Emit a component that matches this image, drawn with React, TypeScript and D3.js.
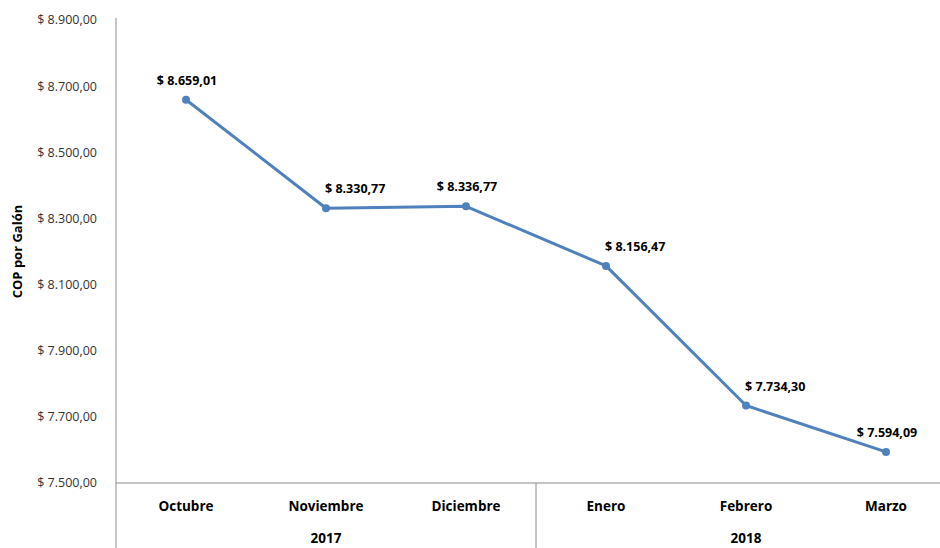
import React, { useEffect, useRef } from 'react';
import * as d3 from 'd3';

const months = ['Octubre', 'Noviembre', 'Diciembre', 'Enero', 'Febrero', 'Marzo'];
const years = ['2017', '2017', '2017', '2018', '2018', '2018'];
const prices = [8659.01, 8330.77, 8336.77, 8156.47, 7734.3, 7594.09];
const yTicks = [7500, 7700, 7900, 8100, 8300, 8500, 8700, 8900];
// label placement: centered above or above-right of the point
const labelSide = ['center', 'right', 'center', 'right', 'right', 'center'];

const fmt = (v: number) =>
  '$ ' +
  v
    .toFixed(2)
    .replace('.', ',')
    .replace(/\B(?=(\d{3})+(?!\d))/g, '.');

const App: React.FC = () => {
  const svgRef = useRef<SVGSVGElement>(null);

  useEffect(() => {
    if (!svgRef.current) return;
    const width = 940;
    const height = 548;
    const left = 116;
    const top = 20;
    const bottom = 483;
    const font = "'Open Sans', 'Noto Sans', sans-serif";

    const svg = d3.select(svgRef.current);
    svg.selectAll('*').remove();

    const x = d3.scaleBand<string>().domain(months).range([left, left + 140 * months.length]);
    const y = d3.scaleLinear().domain([7500, 8900]).range([bottom, top]);
    const cx = (m: string) => x(m)! + x.bandwidth() / 2;

    // axes
    svg.append('line')
      .attr('x1', left).attr('x2', left)
      .attr('y1', top - 2).attr('y2', height)
      .attr('stroke', '#8c8c8c').attr('stroke-width', 1);
    svg.append('line')
      .attr('x1', left).attr('x2', width)
      .attr('y1', bottom).attr('y2', bottom)
      .attr('stroke', '#8c8c8c').attr('stroke-width', 1);

    // year groups + separator
    const yearGroups = d3.groups(months.map((m, i) => ({ m, yr: years[i] })), d => d.yr);
    yearGroups.forEach(([yr, items], gi) => {
      const x0 = x(items[0].m)!;
      const x1 = x(items[items.length - 1].m)! + x.bandwidth();
      if (gi > 0) {
        svg.append('line')
          .attr('x1', x0).attr('x2', x0)
          .attr('y1', bottom).attr('y2', height)
          .attr('stroke', '#8c8c8c').attr('stroke-width', 1);
      }
      svg.append('text')
        .attr('x', (x0 + x1) / 2).attr('y', 543)
        .attr('text-anchor', 'middle')
        .style('font-family', font).style('font-size', '13.5px').style('font-weight', 'bold')
        .attr('fill', '#000')
        .text(yr);
    });

    // y tick labels
    svg.append('g').selectAll('text').data(yTicks).join('text')
      .attr('x', 97).attr('y', d => y(d))
      .attr('dy', '0.35em')
      .attr('text-anchor', 'end')
      .style('font-family', font).style('font-size', '12.5px')
      .attr('fill', '#333')
      .text(d => fmt(d));

    // month labels
    svg.append('g').selectAll('text').data(months).join('text')
      .attr('x', d => cx(d)).attr('y', 511)
      .attr('text-anchor', 'middle')
      .style('font-family', font).style('font-size', '13.5px').style('font-weight', 'bold')
      .attr('fill', '#000')
      .text(d => d);

    // y title
    svg.append('text')
      .attr('transform', `translate(22, ${(top + bottom) / 2}) rotate(-90)`)
      .attr('text-anchor', 'middle')
      .style('font-family', font).style('font-size', '13px').style('font-weight', 'bold')
      .attr('fill', '#000')
      .text('COP por Galón');

    const pts = months.map((m, i) => ({ m, v: prices[i], side: labelSide[i] }));
    const line = d3.line<{ m: string; v: number }>()
      .x(d => cx(d.m))
      .y(d => y(d.v));

    svg.append('path')
      .datum(pts)
      .attr('d', line)
      .attr('fill', 'none')
      .attr('stroke', '#4f81bd')
      .attr('stroke-width', 3)
      .attr('stroke-linejoin', 'round');

    svg.append('g').selectAll('circle').data(pts).join('circle')
      .attr('cx', d => cx(d.m))
      .attr('cy', d => y(d.v))
      .attr('r', 4)
      .attr('fill', '#4f81bd');

    svg.append('g').selectAll('text').data(pts).join('text')
      .attr('x', d => (d.side === 'right' ? cx(d.m) - 1 : cx(d.m) + 1))
      .attr('y', d => y(d.v) - 15)
      .attr('text-anchor', d => (d.side === 'right' ? 'start' : 'middle'))
      .style('font-family', font).style('font-size', '12.5px').style('font-weight', 'bold')
      .attr('fill', '#000')
      .text(d => fmt(d.v));
  }, []);

  return (
    <div style={{ position: 'fixed', left: 0, top: 0, background: '#fff' }}>
      <svg ref={svgRef} width={940} height={548} style={{ display: 'block' }}></svg>
    </div>
  );
};

export default App;
